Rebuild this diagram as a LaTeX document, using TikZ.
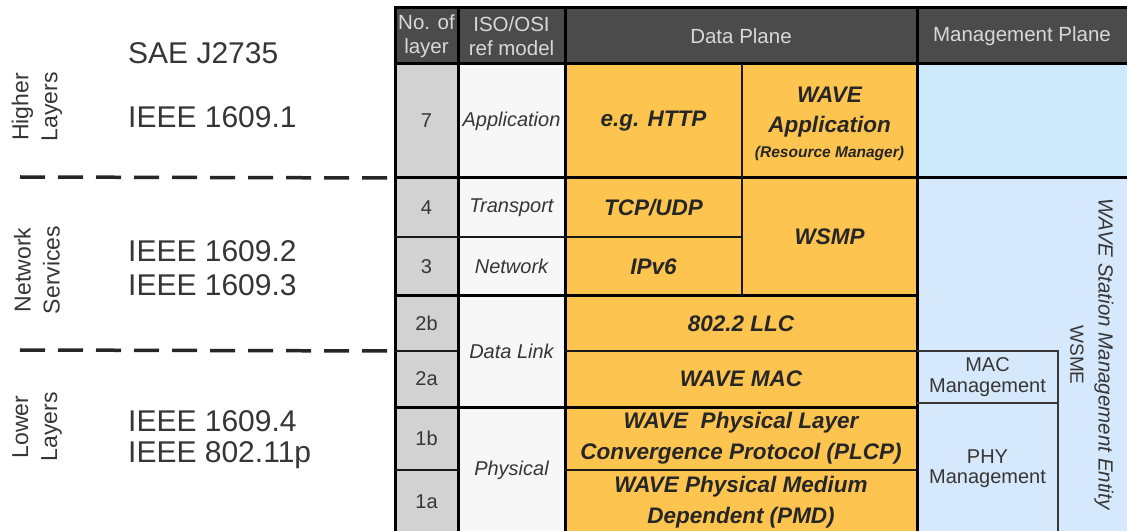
\documentclass[tikz,border=0pt]{standalone}
\usepackage{fontspec}
\setmainfont{Liberation Sans}
\definecolor{hdrgray}{HTML}{4B4B4B}
\definecolor{hdrtext}{HTML}{D8D8D8}
\definecolor{numgray}{HTML}{D2D2D2}
\definecolor{isowhite}{HTML}{F7F7F7}
\definecolor{wave}{HTML}{FDC450}
\definecolor{mgmttop}{HTML}{CCEAFB}
\definecolor{mgmtblue}{HTML}{D6E8FB}
\definecolor{txtdark}{HTML}{262626}
\definecolor{txtmid}{HTML}{363636}
\newcommand\fs[2]{\fontsize{#1bp}{#2bp}\selectfont}
% a table cell: style, name, x1, y1, x2, y2, text
\newcommand\tcell[7]{%
  \node[#1, minimum width={(#5-#3)*1bp}, minimum height={(#6-#4)*1bp}]
    (#2) at ({(#3+#5)/2},{(#4+#6)/2}) {#7};}
\begin{document}
\begin{tikzpicture}[x=1bp,y=-1bp,
  cell/.style={inner sep=0pt, outer sep=0pt, align=center},
  hdr/.style={cell, fill=hdrgray, text=hdrtext, font=\fs{20.5}{24}},
  num/.style={cell, fill=numgray, text=txtmid, font=\fs{20}{22}},
  iso/.style={cell, fill=isowhite, text=txtmid, font=\fs{20}{24}\itshape},
  proto/.style={cell, fill=wave, text=txtdark, font=\fs{22.5}{31}\bfseries\itshape},
  mgmt/.style={cell, fill=mgmtblue},
  mgmttext/.style={inner sep=0pt, align=center, text=txtmid, font=\fs{20}{20.5}},
  stdtext/.style={inner sep=0pt, anchor=west, text=txtmid, font=\fs{30}{34}},
  grouptext/.style={inner sep=0pt, align=center, rotate=90, text=txtmid, font=\fs{23}{29}},
  heavy/.style={line width=3bp, black},
  light/.style={line width=2bp, black!90},
  boxline/.style={line width=1.5bp, txtmid},
  divider/.style={line width=3.5bp, black!85, dash pattern=on 25bp off 13bp}
]
\clip (0,0) rectangle (1127,531);
\fill[white] (0,0) rectangle (1127,531);

% header row
\tcell{hdr}{hnum}{395}{8}{458}{64}{No. of\\layer}
\tcell{hdr}{hiso}{458}{8}{565}{64}{ISO/OSI\\ref model}
\tcell{hdr}{hdata}{565}{8}{917}{64}{Data Plane}
\tcell{hdr}{hmgmt}{917}{8}{1127}{64}{Management Plane}

% layer numbers
\tcell{num}{n7}{395}{64}{458}{178}{7}
\tcell{num}{n4}{395}{178}{458}{237}{4}
\tcell{num}{n3}{395}{237}{458}{296}{3}
\tcell{num}{n2b}{395}{296}{458}{351}{2b}
\tcell{num}{n2a}{395}{351}{458}{407}{2a}
\tcell{num}{n1b}{395}{407}{458}{470}{1b}
\tcell{num}{n1a}{395}{470}{458}{534}{1a}

% ISO/OSI reference model
\tcell{iso}{app}{458}{64}{565}{178}{Application}
\tcell{iso}{trans}{458}{178}{565}{237}{Transport}
\tcell{iso}{net}{458}{237}{565}{296}{Network}
\tcell{iso}{dlink}{458}{296}{565}{407}{Data Link}
\tcell{iso}{phys}{458}{407}{565}{534}{Physical}

% data plane
\tcell{proto}{http}{565}{64}{742}{178}{e.g. HTTP}
\tcell{proto}{wapp}{742}{64}{917}{178}{}
\node[inner sep=0pt, align=center, text=txtdark, font=\fs{22.5}{30}\bfseries\itshape]
  (wapptext) at (829.5,112) {WAVE\\Application};
\node[inner sep=0pt, text=txtdark, font=\fs{15.5}{18}\bfseries\itshape]
  (wappsub) at (829.5,153) {(Resource Manager)};
\tcell{proto}{tcp}{565}{178}{742}{237}{TCP/UDP}
\tcell{proto}{ipv6}{565}{237}{742}{296}{IPv6}
\tcell{proto}{wsmp}{742}{178}{917}{296}{WSMP}
\tcell{proto}{llc}{565}{296}{917}{351}{802.2 LLC}
\tcell{proto}{mac}{565}{351}{917}{407}{WAVE MAC}
\tcell{proto}{plcp}{565}{407}{917}{470}{WAVE~ Physical Layer\\Convergence Protocol (PLCP)}
\tcell{proto}{pmd}{565}{470}{917}{534}{WAVE Physical Medium\\Dependent (PMD)}

% management plane
\tcell{cell, fill=mgmttop}{mtop}{917}{64}{1127}{178}{}
\tcell{mgmt}{wsme}{917}{178}{1127}{534}{}
\tcell{mgmttext}{macm}{917}{351}{1058}{403}{MAC\\Management}
\tcell{mgmttext}{phym}{917}{403}{1058}{534}{PHY\\Management}
\node[inner sep=0pt, rotate=-90, text=txtmid, font=\fs{20.5}{24}\itshape]
  (wsmename) at (1104,354) {WAVE Station Management Entity};
\node[inner sep=0pt, rotate=-90, text=txtmid, font=\fs{19}{22}]
  (wsmeabbr) at (1077,355) {WSME};

% grid lines
\draw[heavy] (395,8) -- (1127,8);
\draw[heavy] (395,64) -- (1127,64);
\draw[heavy] (395,178) -- (1127,178);
\draw[heavy] (395,296) -- (917,296);
\draw[heavy] (395,407) -- (917,407);
\draw[heavy] (395,6.5) -- (395,531);
\draw[heavy] (458,6.5) -- (458,531);
\draw[heavy] (565,6.5) -- (565,531);
\draw[heavy] (917,6.5) -- (917,531);
\draw[light] (742,64) -- (742,296);
\draw[light] (395,237) -- (742,237);
\draw[light] (395,351) -- (458,351);
\draw[light] (565,351) -- (917,351);
\draw[light] (395,470) -- (458,470);
\draw[light] (565,470) -- (917,470);
\draw[boxline] (macm.north west) -- (macm.north east) -- (phym.south east);
\draw[boxline] (macm.south west) -- (macm.south east);

% standards on the left
\node[stdtext] (sae) at (128,53) {SAE J2735};
\node[stdtext] (p1) at (128,117) {IEEE 1609.1};
\node[stdtext] (p2) at (128,251) {IEEE 1609.2};
\node[stdtext] (p3) at (128,285) {IEEE 1609.3};
\node[stdtext] (p4) at (128,421) {IEEE 1609.4};
\node[stdtext] (p11) at (128,455) {IEEE 802.11p};

\node[grouptext] (higher) at (37,107) {Higher\\Layers};
\node[grouptext] (netsvc) at (37,270) {Network\\Services};
\node[grouptext] (lower) at (37,427) {Lower\\Layers};

% group dividers
\coordinate (d1) at (20,177);
\coordinate (d2) at (20,350);
\draw[divider] (d1) -- (n4.north west);
\draw[divider] (d2) -- (n2a.north west);
\end{tikzpicture}
\end{document}
